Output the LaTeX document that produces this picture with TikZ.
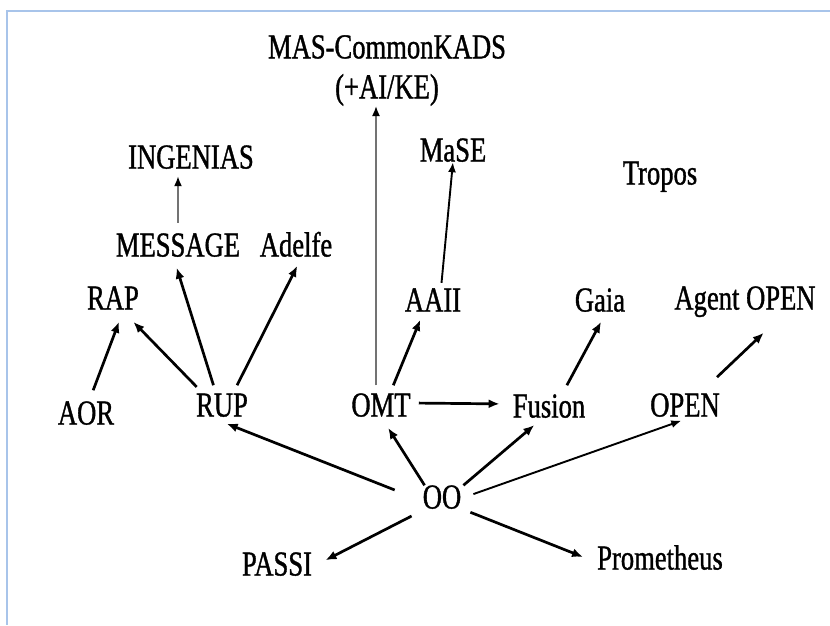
\documentclass[tikz,border=0pt]{standalone}
\usepackage{fontspec}
\setmainfont{Liberation Serif}[FakeStretch=0.76,FakeBold=1]
\usetikzlibrary{arrows.meta}
\definecolor{frameblue}{HTML}{A8C4EA}
\begin{document}
\begin{tikzpicture}[x=1pt,y=-1pt,
  lbl/.style={inner sep=0pt, font=\fontsize{35}{40}\selectfont, text height=23pt, text depth=0pt},
  arr/.style={line width=2.7pt, -{Latex[length=11pt,width=9pt]}},
  midarr/.style={line width=1.9pt, -{Latex[length=10pt,width=8pt]}},
  thinarr/.style={line width=1.7pt, draw=black!55, -{Latex[length=10pt,width=8pt,color=black]}}
]
\useasboundingbox (0,0) rectangle (830,625);
% frame
\draw[frameblue, line width=1.5pt] (830,11) -- (7,11) -- (7,625);

% methodologies
\node[inner sep=0pt, font=\fontsize{35}{40}\selectfont, align=center, anchor=south] (mas) at (387,106) {MAS-CommonKADS\\(+AI/KE)};
\node[lbl] (ingenias) at (191,157) {INGENIAS};
\node[lbl] (mase) at (453,150) {MaSE};
\node[lbl] (tropos) at (660,173) {Tropos};
\node[lbl] (message) at (178,245) {MESSAGE};
\node[lbl] (adelfe) at (296,245) {Adelfe};
\node[lbl] (rap) at (113,298) {RAP};
\node[lbl] (aaii) at (433,300) {AAII};
\node[lbl] (gaia) at (600,300) {Gaia};
\node[lbl] (agentopen) at (745,298) {Agent OPEN};
\node[lbl] (aor) at (86,413) {AOR};
\node[lbl] (rup) at (222,405) {RUP};
\node[lbl] (omt) at (381,405) {OMT};
\node[lbl] (fusion) at (549,406) {Fusion};
\node[lbl] (open) at (685,405) {OPEN};
\node[lbl] (oo) at (442,497) {OO};
\node[lbl] (passi) at (277,564) {PASSI};
\node[lbl] (prometheus) at (660,558) {Prometheus};

% derivations
\draw[thinarr, shorten <=10.5pt, shorten >=7.5pt] (message.north) -- (message.north |- ingenias.south);
\draw[thinarr, shorten <=8pt] ([xshift=-5pt]omt.north) -- ([xshift=-5pt]omt.north |- mas.south);
\draw[midarr, shorten <=5.5pt, shorten >=0.5pt] ([xshift=8pt]aaii.north) -- (mase.south);
\draw[arr, shorten <=8.5pt, shorten >=11.5pt] ([xshift=-6pt]rup.north) -- ([xshift=-4.8pt]message.south);
\draw[arr, shorten <=9pt, shorten >=10.2pt] ([xshift=11pt]rup.north) -- ([xshift=5.9pt]adelfe.south);
\draw[arr, shorten <=8.9pt, shorten >=17pt] ([xshift=7pt]rup.north west) -- ([xshift=8.5pt]rap.south);
\draw[arr, shorten <=11.8pt, shorten >=12.9pt] ([xshift=3pt]aor.north) -- ([xshift=10.6pt]rap.south);
\draw[arr, shorten <=8.7pt, shorten >=8.7pt] ([xshift=9pt]omt.north) -- ([xshift=-9.4pt]aaii.south);
\draw[arr, shorten <=8pt, shorten >=13pt] ([yshift=2pt]omt.east) -- ([yshift=2pt]fusion.west);
\draw[arr, shorten <=10.3pt, shorten >=11.5pt] ([xshift=13pt]fusion.north) -- ([xshift=6.5pt]gaia.south);
\draw[arr, shorten <=23.5pt, shorten >=33.5pt] ([xshift=15pt]open.north) -- ([xshift=43pt]agentopen.south);
\draw[arr, shorten <=30pt, shorten >=19pt] ([yshift=-4pt]oo.west) -- ([xshift=-13pt]rup.south);
\draw[arr, shorten >=13.3pt] ([xshift=2pt]oo.north west) -- (omt.south);
\draw[arr, shorten >=11.4pt] ([xshift=2pt]oo.north east) -- ([xshift=-6pt]fusion.south);
\draw[midarr, shorten <=12.7pt, shorten >=12pt] ([yshift=-1.3pt]oo.east) -- ([xshift=7.6pt]open.south);
\draw[arr, shorten <=12.4pt, shorten >=14.9pt] ([yshift=-1.7pt]oo.south west) -- ([yshift=-3pt]passi.east);
\draw[arr, shorten <=9.7pt, shorten >=15pt] (oo.south east) -- ([yshift=-4.5pt]prometheus.west);
\end{tikzpicture}
\end{document}
